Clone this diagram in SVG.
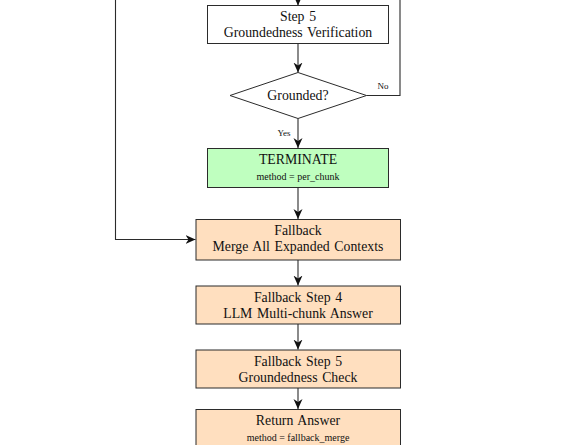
<svg xmlns="http://www.w3.org/2000/svg" width="584" height="445" viewBox="0 0 584 445">
<style>
.box{stroke:#2b2b2b;stroke-width:1}
.plain{fill:#ffffff}
.green{fill:#bfffbf}
.peach{fill:#ffdfbf}
.t{font-family:"Liberation Serif","Times New Roman",serif;font-size:13.8px;fill:#111;text-anchor:middle;word-spacing:1.2px}
.s{font-family:"Liberation Serif","Times New Roman",serif;font-size:10px;fill:#111;text-anchor:middle}
.lbl{font-family:"Liberation Serif","Times New Roman",serif;font-size:9px;fill:#111;text-anchor:middle}
.c{fill:none;stroke:#2b2b2b;stroke-width:1.1}
</style>
<defs>
<marker id="ah" viewBox="0 0 10 10" refX="10" refY="5" markerWidth="10" markerHeight="10" markerUnits="userSpaceOnUse" orient="auto">
<path d="M0,0.5 L10,5 L0,9.5 L3,5 Z" fill="#111"/>
</marker>
</defs>
<rect width="584" height="445" fill="#ffffff"/>
<g id="connectors">
<path class="c" d="M298,0 V5.5" marker-end="url(#ah)"/>
<path class="c" d="M298,43.5 V72.5" marker-end="url(#ah)"/>
<path class="c" d="M366.5,95.5 H400 V0"/>
<path class="c" d="M298,118.5 V148" marker-end="url(#ah)"/>
<path class="c" d="M298,187.5 V219" marker-end="url(#ah)"/>
<path class="c" d="M115.5,0 V239.5 H195.5" marker-end="url(#ah)"/>
<path class="c" d="M298,260 V285.5" marker-end="url(#ah)"/>
<path class="c" d="M298,324 V349.5" marker-end="url(#ah)"/>
<path class="c" d="M298,388 V409" marker-end="url(#ah)"/>
<text class="lbl" x="383" y="89">No</text>
<text class="lbl" x="284" y="136">Yes</text>
</g>
<g id="step5">
<rect class="box plain" x="207.5" y="5.5" width="181" height="38"/>
<text class="t" x="298" y="20.5">Step 5</text>
<text class="t" x="298" y="37">Groundedness Verification</text>
</g>
<g id="grounded">
<polygon class="box plain" points="298,72.5 366.5,95.5 298,118.5 230,95.5"/>
<text class="t" x="298" y="100">Grounded?</text>
</g>
<g id="terminate">
<rect class="box green" x="207.5" y="148.5" width="181" height="39"/>
<text class="t" x="298" y="164">TERMINATE</text>
<text class="s" x="298" y="180">method = per_chunk</text>
</g>
<g id="fallback">
<rect class="box peach" x="196" y="219.5" width="204.5" height="40.5"/>
<text class="t" x="298" y="235">Fallback</text>
<text class="t" x="298" y="251">Merge All Expanded Contexts</text>
</g>
<g id="fallback-step4">
<rect class="box peach" x="196" y="286" width="204.5" height="38"/>
<text class="t" x="298" y="302">Fallback Step 4</text>
<text class="t" x="298" y="318">LLM Multi-chunk Answer</text>
</g>
<g id="fallback-step5">
<rect class="box peach" x="196" y="350" width="204.5" height="38"/>
<text class="t" x="298" y="366">Fallback Step 5</text>
<text class="t" x="298" y="382">Groundedness Check</text>
</g>
<g id="return-answer">
<rect class="box peach" x="196" y="409.5" width="204.5" height="40"/>
<text class="t" x="298" y="424.5">Return Answer</text>
<text class="s" x="298" y="440.5">method = fallback_merge</text>
</g>
</svg>
